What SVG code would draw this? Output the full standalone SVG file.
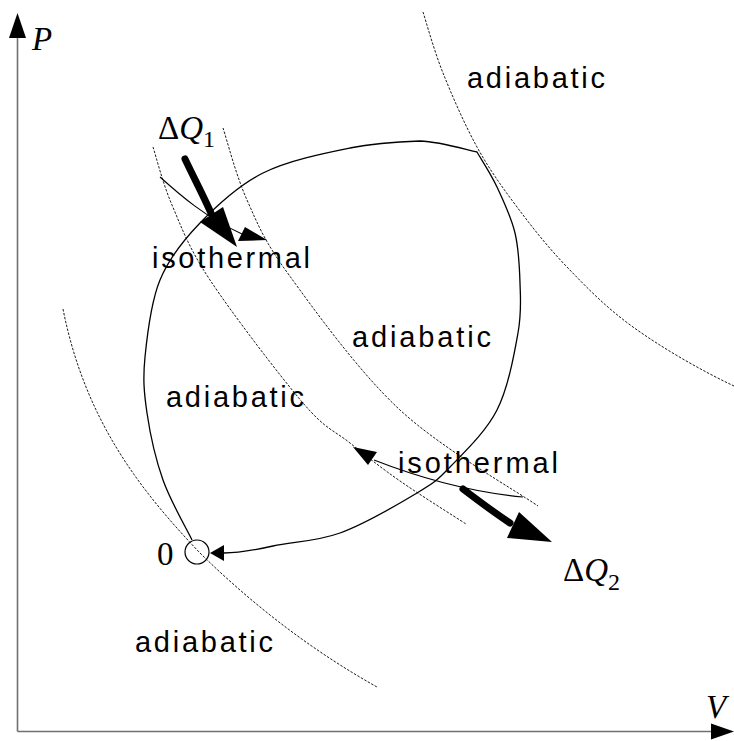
<svg xmlns="http://www.w3.org/2000/svg" width="734" height="741" viewBox="0 0 734 741">
<style>
.axis{stroke:#707070;stroke-width:1.6;fill:none}
.head{fill:#000;stroke:none}
.dot{stroke:#000;stroke-width:0.9;fill:none;stroke-dasharray:2.5 1.5}
.solid{stroke:#000;stroke-width:1.3;fill:none}
.thin{stroke:#000;stroke-width:1.1;fill:none}
.thick{stroke:#000;stroke-width:7;fill:none;stroke-linecap:round}
.lbl{font-family:"Liberation Sans",Arial,sans-serif;font-size:29px;fill:#000}
.math{font-family:"Liberation Serif","Times New Roman",serif;font-size:33px;fill:#000}
</style>
<rect width="734" height="741" fill="#fff"/>
<g id="axes">
<line class="axis" x1="17.5" y1="731.5" x2="17.5" y2="36"/>
<line class="axis" x1="17.5" y1="731.5" x2="712" y2="731.5"/>
<polygon class="head" points="17.5,13 9,38 26,38"/>
<polygon class="head" points="734,731.5 711,723.5 711,739.5"/>
<text class="math" x="32" y="50" font-style="italic">P</text>
<text class="math" x="706" y="718" font-style="italic">V</text>
</g>
<g id="connectors">
<path id="adiabat1" class="dot" d="M423,12 C426.3,22.2 434,50.5 443,73 C452,95.5 464.7,124.7 477,147 C489.3,169.3 502,187 517,207 C532,227 547.7,247 567,267 C586.3,287 605.3,307 633,327 C660.7,347 700,370 734,386"/>
<path id="adiabat2" class="dot" d="M223,128 C227,140 236,175.5 247,200 C258,224.5 263.5,240 289,275 C314.5,310 358.5,371.5 400,410 C441.5,448.5 515,490 538,506"/>
<path id="adiabat3" class="dot" d="M153,147 C156.2,156.7 162.5,182.8 172,205 C181.5,227.2 188.2,247 210,280 C231.8,313 279.7,375.8 303,403 C326.3,430.2 333.8,430 350,443 C366.2,456 380.7,467.5 400,481 C419.3,494.5 455,516.8 466,524"/>
<path id="adiabat4" class="dot" d="M63,309 C85,420 140,490 200,553 C260,612 320,655 377,687"/>
<path id="loop" class="solid" d="M192,540 C187.2,530 170.5,501.2 163,480 C155.5,458.8 150,433.5 147,413 C144,392.5 142.8,379.2 145,357 C147.2,334.8 150.8,302.3 160,280 C169.2,257.7 182.8,240.8 200,223 C217.2,205.2 238,185.5 263,173 C288,160.5 323.8,153.3 350,148 C376.2,142.7 398.8,141.7 420,141 C441.2,141.7 467.5,150.2 477,152 C480.3,157.8 490.7,173.5 497,187 C503.3,200.5 511.2,217 515,233 C518.8,249 519.5,266.3 520,283 C520.5,299.7 521.8,311.8 518,333 C514.2,354.2 508.3,387.7 497,410 C485.7,432.3 463.3,453.2 450,467 C436.7,480.8 435.3,482 417,493 C398.7,504 364,524.3 340,533 C316,541.7 292.3,541.7 273,546 C253.7,550.3 240,553 224,553"/>
<polygon class="head" points="210,553 224,545 224,561"/>
<path id="iso-top" class="thin" d="M160,177 C180,195 205,217 242,234"/>
<polygon class="head" points="267,240 245,227 238,241"/>
<path id="iso-bottom" class="thin" d="M523,497 C470,492 420,478 374,460"/>
<polygon class="head" points="353,447 377,452 368,465"/>
<path id="heat-in" class="thick" d="M185,159 C195,180 203,195 211,213"/>
<polygon class="head" points="237,247 200,222 223,207"/>
<path id="heat-out" class="thick" d="M463,489 C480,502 495,513 510,523"/>
<polygon class="head" points="552,542 519,512 507,538"/>
</g>
<g id="state0">
<circle cx="197" cy="552" r="12" fill="none" stroke="#000" stroke-width="1.2"/>
<text class="math" x="157" y="565" font-size="35">0</text>
</g>
<g id="dQ1"><text class="math" x="158" y="139">Δ<tspan font-style="italic">Q</tspan><tspan font-size="24" dy="8">1</tspan></text></g>
<g id="dQ2"><text class="math" x="563" y="581">Δ<tspan font-style="italic">Q</tspan><tspan font-size="24" dy="9">2</tspan></text></g>
<g id="label-adiabatic-top"><text class="lbl" x="467" y="88" textLength="138" lengthAdjust="spacing">adiabatic</text></g>
<g id="label-adiabatic-midright"><text class="lbl" x="352" y="347" textLength="139" lengthAdjust="spacing">adiabatic</text></g>
<g id="label-adiabatic-midleft"><text class="lbl" x="166" y="407" textLength="138" lengthAdjust="spacing">adiabatic</text></g>
<g id="label-adiabatic-bottom"><text class="lbl" x="135" y="652" textLength="138" lengthAdjust="spacing">adiabatic</text></g>
<g id="label-isothermal-top"><text class="lbl" x="152" y="268" textLength="158" lengthAdjust="spacing">isothermal</text></g>
<g id="label-isothermal-bottom"><text class="lbl" x="398" y="473" textLength="160" lengthAdjust="spacing">isothermal</text></g>
</svg>
